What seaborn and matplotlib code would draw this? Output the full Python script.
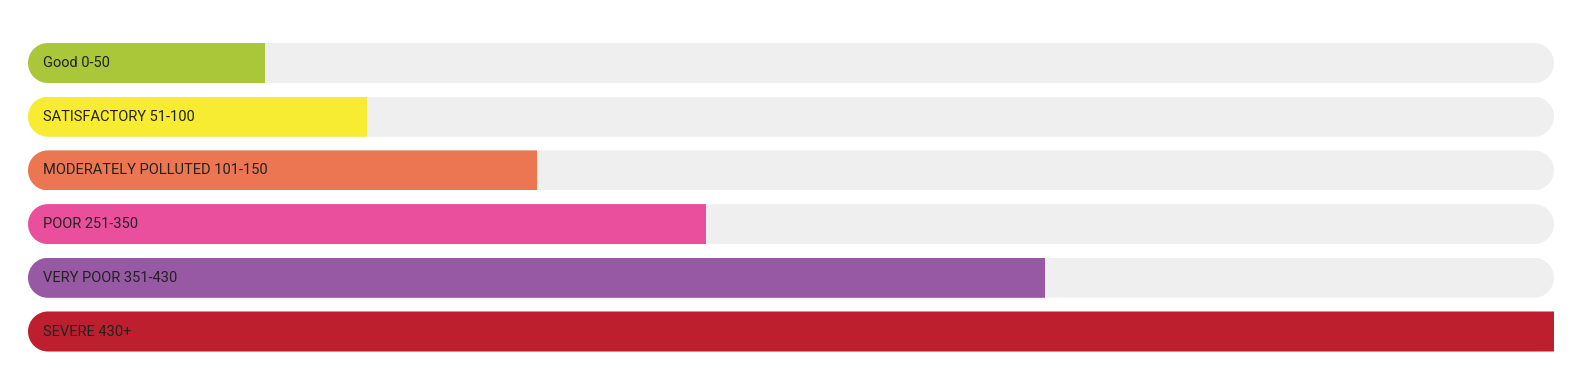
import matplotlib
matplotlib.use("Agg")
import matplotlib.pyplot as plt
import seaborn as sns
import pandas as pd
import numpy as np
from matplotlib.path import Path
from matplotlib.transforms import IdentityTransform

categories = ["Good 0-50", "SATISFACTORY 51-100", "MODERATELY POLLUTED 101-150",
              "POOR 251-350", "VERY POOR 351-430", "SEVERE 430+"]
values = [70, 100, 150, 200, 300, 450]
track_max = 450
colors = ["#a9c739", "#f8ec33", "#ec7651", "#ea4f9e", "#9859a4", "#be1f2e"]
track_color = "#efefef"

sns.set_theme(style="white")
plt.rcParams["font.family"] = ["Roboto", "DejaVu Sans"]

W, H, DPI = 1573, 368, 100
fig = plt.figure(figsize=(W / DPI, H / DPI), dpi=DPI)
ax = fig.add_axes([28 / W, 9.65 / H, 1526 / W, 322.2 / H])

df = pd.DataFrame({"cat": categories, "val": values, "track": [track_max] * len(values)})
sns.barplot(data=df, y="cat", x="track", color=track_color, width=0.745,
            saturation=1, ax=ax, linewidth=0)
sns.barplot(data=df, y="cat", x="val", hue="cat", palette=colors, width=0.745,
            saturation=1, ax=ax, legend=False, linewidth=0)

ax.set_xlim(0, track_max)
ax.set_ylim(len(categories) - 0.5, -0.5)
ax.axis("off")

n = len(categories)
patches = list(ax.patches)
track_patches = patches[:n]
bar_patches = patches[n:]


def pill_path(x0, y0, w, h):
    r = h / 2
    ra = Path.arc(-90, 90)
    la = Path.arc(90, 270)
    rv = ra.vertices * r + np.array([x0 + w - r, y0 + r])
    lv = la.vertices * r + np.array([x0 + r, y0 + r])
    rc = ra.codes.copy()
    lc = la.codes.copy()
    lc[0] = Path.LINETO
    verts = np.vstack([rv, lv, rv[:1]])
    codes = np.concatenate([rc, lc, [Path.CLOSEPOLY]])
    return Path(verts, codes)


def rounded_clip(p, extend_right):
    (x0, y0) = ax.transData.transform((p.get_x(), p.get_y() + p.get_height()))
    (x1, y1) = ax.transData.transform((p.get_x() + p.get_width(), p.get_y()))
    h = abs(y1 - y0)
    ylow = min(y0, y1)
    w = (x1 - x0) + (h if extend_right else 0)
    p.set_clip_path(pill_path(x0, ylow, w, h), IdentityTransform())


for p in track_patches:
    rounded_clip(p, extend_right=False)
for p in bar_patches:
    rounded_clip(p, extend_right=True)

for i, lab in enumerate(categories):
    ax.annotate(lab, xy=(0, i), xytext=(15 * 72 / DPI, 0), textcoords="offset points",
                va="center", ha="left", fontsize=10.5, color="#222222")

fig.savefig("out.png", dpi=DPI)
